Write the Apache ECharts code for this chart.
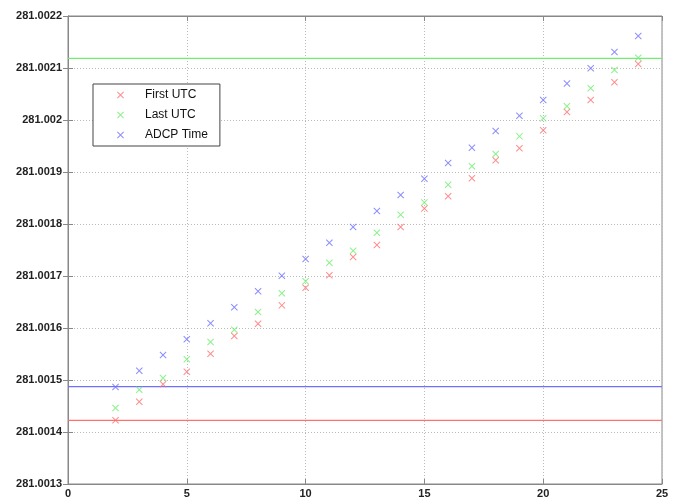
<!DOCTYPE html>
<html>
<head>
<meta charset="utf-8">
<script src="https://cdn.jsdelivr.net/npm/echarts@6/dist/echarts.min.js"></script>
<style>html,body{margin:0;padding:0;background:#fff}#c{width:674px;height:499px}</style>
</head>
<body>
<div id="c"></div>
<script>
var xValues = [2,3,4,5,6,7,8,9,10,11,12,13,14,15,16,17,18,19,20,21,22,23,24];
var firstUTC = [281.0014225,281.0014583,281.0014917,281.0015160,281.0015506,281.0015846,281.0016083,281.0016436,281.0016775,281.0017013,281.0017365,281.0017596,281.0017942,281.0018298,281.0018533,281.0018879,281.0019225,281.0019456,281.0019802,281.0020154,281.0020385,281.0020725,281.0021077];
var lastUTC = [281.0014462,281.0014813,281.0015038,281.0015398,281.0015731,281.0015967,281.0016308,281.0016667,281.0016898,281.0017256,281.0017487,281.0017833,281.0018179,281.0018413,281.0018756,281.0019110,281.0019346,281.0019686,281.0020032,281.0020265,281.0020610,281.0020961,281.0021198];
var adcpTime = [281.0014865,281.0015179,281.0015481,281.0015783,281.0016090,281.0016398,281.0016706,281.0017006,281.0017327,281.0017640,281.0017942,281.0018250,281.0018558,281.0018871,281.0019173,281.0019467,281.0019788,281.0020083,281.0020385,281.0020702,281.0020994,281.0021308,281.0021615];
var refFirst = 281.0014225;
var refADCP = 281.0014871;
var refLast = 281.0021187;
var xRange = [0, 25];
var yTicks = [281.0013,281.0014,281.0015,281.0016,281.0017,281.0018,281.0019,281.002,281.0021,281.0022];

var RED = '#ff7070', GREEN = '#6fee6f', BLUE = '#7070ff';
var XSYM = 'path://M0,1 L1,0 L5,4 L9,0 L10,1 L6,5 L10,9 L9,10 L5,6 L1,10 L0,9 L4,5 Z';

function pairs(ys){ return ys.map(function(y,i){ return [xValues[i], y]; }); }
function hline(v){ return [[xRange[0], v],[xRange[1], v]]; }

var chart = echarts.init(document.getElementById('c'), null, {renderer:'canvas'});
var tickStyle = {show:true, inside:true, length:5, lineStyle:{color:'#888'}};
var labelStyle = {color:'#222', fontSize:11, fontWeight:'bold', fontFamily:'Liberation Sans, Arial, sans-serif'};
var gridLine = {show:true, lineStyle:{color:'#bbbbbb', type:[1,2]}};
chart.setOption({
  animation:false,
  backgroundColor:'#fff',
  grid:{left:68, right:12, top:16, bottom:15, show:true, borderColor:'#888', borderWidth:1, containLabel:false},
  xAxis:[{
    type:'value', min:xRange[0], max:xRange[1], interval:5,
    axisLine:{show:true, lineStyle:{color:'#888'}},
    axisTick:tickStyle,
    axisLabel:Object.assign({margin:4}, labelStyle),
    splitLine:gridLine
  },{
    type:'value', position:'top', min:xRange[0], max:xRange[1], interval:5,
    axisLine:{show:true, lineStyle:{color:'#888'}},
    axisTick:tickStyle, axisLabel:{show:false}, splitLine:{show:false}
  }],
  yAxis:[{
    type:'value', min:yTicks[0], max:yTicks[yTicks.length-1], interval:0.0001,
    axisLine:{show:true, lineStyle:{color:'#888'}},
    axisTick:tickStyle,
    axisLabel:Object.assign({margin:6, formatter:function(v){ return String(parseFloat(Number(v).toFixed(4))); }}, labelStyle),
    splitLine:gridLine
  },{
    type:'value', position:'right', min:yTicks[0], max:yTicks[yTicks.length-1], interval:0.0001,
    axisLine:{show:true, lineStyle:{color:'#888'}},
    axisTick:tickStyle, axisLabel:{show:false}, splitLine:{show:false}
  }],
  legend:{
    orient:'vertical', left:93, top:84,
    backgroundColor:'#fff', borderColor:'#444', borderWidth:1, borderRadius:0,
    padding:[5,12,5,24], itemGap:8, itemWidth:7, itemHeight:7,
    textStyle:{color:'#111', fontSize:12, lineHeight:12, padding:[0,0,0,16], fontFamily:'Liberation Sans, Arial, sans-serif'},
    data:[{name:'First UTC', icon:XSYM},{name:'Last UTC', icon:XSYM},{name:'ADCP Time', icon:XSYM}]
  },
  series:[
    {name:'refFirst', type:'line', data:hline(refFirst), showSymbol:false, lineStyle:{color:RED, width:1.2}, itemStyle:{color:RED}, z:1, silent:true},
    {name:'refADCP', type:'line', data:hline(refADCP), showSymbol:false, lineStyle:{color:BLUE, width:1.2}, itemStyle:{color:BLUE}, z:1, silent:true},
    {name:'refLast', type:'line', data:hline(refLast), showSymbol:false, lineStyle:{color:GREEN, width:1.2}, itemStyle:{color:GREEN}, z:1, silent:true},
    {name:'First UTC', type:'scatter', data:pairs(firstUTC), symbol:XSYM, symbolSize:7, itemStyle:{color:RED}, z:3},
    {name:'Last UTC', type:'scatter', data:pairs(lastUTC), symbol:XSYM, symbolSize:7, itemStyle:{color:GREEN}, z:3},
    {name:'ADCP Time', type:'scatter', data:pairs(adcpTime), symbol:XSYM, symbolSize:7, itemStyle:{color:BLUE}, z:3}
  ]
});
</script>
</body>
</html>
